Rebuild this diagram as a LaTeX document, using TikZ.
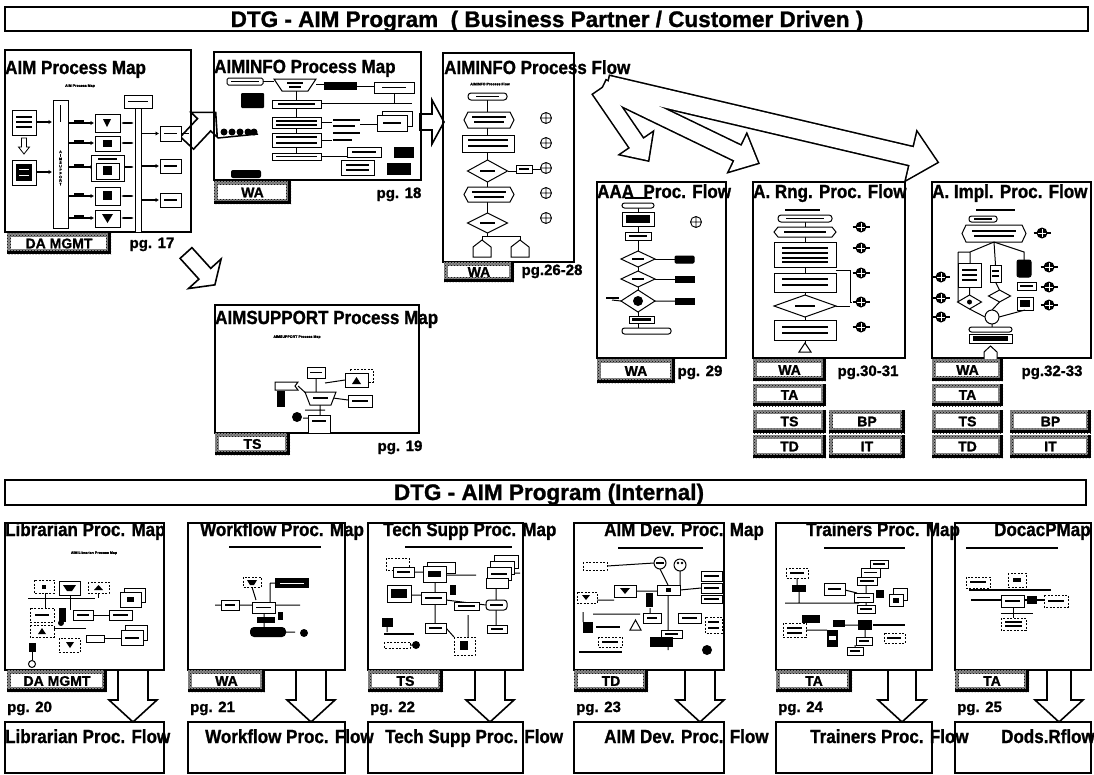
\documentclass[tikz,border=0pt]{standalone}
\usepackage{fontspec}
\setmainfont{Liberation Sans}[BoldFont={Liberation Sans Bold},BoldFeatures={FakeBold=1.2}]
\usetikzlibrary{patterns,arrows.meta,calc}
\newcommand\fsz[1]{\fontsize{#1}{#1}\selectfont\bfseries}
\newcommand\farrow[8]{\begin{scope}[shift={(#1,#2)},rotate=#3]\path[#8] (0,-#5) -- ({#4-#7},-#5) -- ({#4-#7},-#6) -- (#4,0) -- ({#4-#7},#6) -- ({#4-#7},#5) -- (0,#5) -- cycle;\end{scope}}
\newcommand\opl[2]{\draw[line width=0.9pt] (#1,#2) circle (5.5) (#1-5.5,#2)--(#1+5.5,#2) (#1,#2-5.5)--(#1,#2+5.5);}
\newcommand\opd[2]{\fill (#1,#2) circle (5.5); \draw[white,line width=0.8pt] (#1-4,#2)--(#1+4,#2) (#1,#2-4)--(#1,#2+4); \draw[line width=1.2pt] (#1-8.5,#2)--(#1-5,#2) (#1+5,#2)--(#1+8.5,#2);}
\newcommand\hexa[4]{\draw[mb] (#1+4,#2)--(#3-4,#2)--(#3,{(#2+#4)/2})--(#3-4,#4)--(#1+4,#4)--(#1,{(#2+#4)/2})--cycle;}
\newcommand\dia[4]{\draw[mb] (#1-#3,#2)--(#1,#2-#4)--(#1+#3,#2)--(#1,#2+#4)--cycle;}
\newcommand\tl[3]{\draw[line width=1.3pt] (#1,#3)--(#2,#3);}
\begin{document}
\begin{tikzpicture}[x=1pt,y=-1pt,
  pframe/.style={draw,line width=2.2pt,inner sep=0pt},
  mb/.style={draw,line width=1pt,fill=white},
  mdk/.style={draw,line width=1pt,fill=black},
  mdsh/.style={draw,line width=1pt,dash pattern=on 2pt off 1.5pt,fill=white},
  marr/.style={line width=1.4pt,-{Latex[length=3.5pt,width=4.5pt]}},
  mln/.style={line width=1pt},
  tinyt/.style={font=\fsz{3.6},inner sep=0pt},
  ttl/.style={font=\fsz{17},inner sep=0pt,anchor=base west,yscale=1.12},
  pgt/.style={font=\fsz{15},inner sep=0pt,anchor=base},
  pgw/.style={font=\fsz{15},inner sep=0pt,anchor=base west},
  barn/.style={draw,line width=1.6pt,inner sep=0pt},
  btxt/.style={font=\fsz{22.5},inner sep=0pt,anchor=base},
  blk/.style={draw,line width=1.6pt,fill=white},
  lab/.style={inner sep=0pt,font=\fsz{14},path picture={
    \fill[black!45] (path picture bounding box.south west) rectangle (path picture bounding box.north east);
    \fill[pattern=crosshatch dots,pattern color=black] (path picture bounding box.south west) rectangle (path picture bounding box.north east);
    \fill ([xshift=-3.5pt]path picture bounding box.north east) rectangle (path picture bounding box.south east);
    \fill (path picture bounding box.south west) rectangle ([yshift=3.5pt]path picture bounding box.south east);
    \fill[white] ([xshift=3.5pt,yshift=-3.5pt]path picture bounding box.north west) rectangle ([xshift=-5pt,yshift=5pt]path picture bounding box.south east);}}
]
\fill[white] (0,0) rectangle (1094,774);
\useasboundingbox (0,0) rectangle (1094,774);

% ---------- block arrows
\farrow{187}{143}{46.9}{42}{9}{18}{17}{blk}
\farrow{186}{253}{-47.8}{43}{8}{22}{15}{blk}
\farrow{420}{122}{0}{24}{8}{22}{12}{blk}
\farrow{600}{90}{-55.6}{85}{8}{19}{20}{draw,line width=3.2pt}
\farrow{603}{88}{-25.8}{172}{8}{20}{22}{draw,line width=3.2pt}
\farrow{608}{85}{-13.2}{338}{9}{24}{26}{draw,line width=3.2pt}
\farrow{600}{90}{-55.6}{85}{8}{19}{20}{fill=white}
\farrow{603}{88}{-25.8}{172}{8}{20}{22}{fill=white}
\farrow{608}{85}{-13.2}{338}{9}{24}{26}{fill=white}
\foreach \cx/\sw in {133/15,311/15,490/15,700/15,902/14,1059/12}{
  \farrow{\cx}{670}{-90}{52}{\sw}{24}{22}{blk}}

% ---------- title bars
\node[barn,minimum width=1083,minimum height=24] (bar1) at (546.5,19) {};
\node[btxt] (bar1t) at (547,27) {DTG - AIM Program\ \ (\ Business Partner / Customer Driven )};
\node[barn,minimum width=1081,minimum height=25] (bar2) at (545.5,492.5) {};
\node[btxt] (bar2t) at (549,500) {DTG - AIM Program (Internal)};

% ---------- frames row 1
\node[pframe,minimum width=186,minimum height=182] (b1) at (98,141) {};
\node[pframe,minimum width=207,minimum height=128] (b2) at (317.5,116) {};
\node[pframe,minimum width=131,minimum height=209] (b3) at (508.5,157.5) {};
\node[pframe,minimum width=129,minimum height=176] (b4) at (661.5,270) {};
\node[pframe,minimum width=152,minimum height=176] (b5) at (829,270) {};
\node[pframe,minimum width=159,minimum height=176] (b6) at (1011.5,270) {};
\node[pframe,minimum width=204,minimum height=128] (b7) at (317,369) {};
% ---------- frames row 2
\foreach \nm/\cx/\w in {lib/84.5/159,wf/266.5/157,ts/445.5/155,dev/649/150,tr/854/156,dc/1023/136}{
  \node[pframe,minimum width=\w,minimum height=147] (m\nm) at (\cx,596.5) {};
  \node[pframe,minimum width=\w,minimum height=51] (f\nm) at (\cx,747.5) {};}

% ---------- box 1 content
\node[tinyt] (s1) at (80,86) {AIM Process Map};
\draw[mb] (12,110) rectangle (36,135); \tl{16}{32}{117} \tl{16}{32}{122} \tl{16}{32}{127}
\farrow{24}{138}{-90}{16}{2.5}{5.5}{7}{draw,line width=0.8pt,fill=white}
\draw[mb] (12,160) rectangle (36,185); \fill (16,164) rectangle (32,181);
\draw[white,line width=.8pt] (19,169)--(29,169) (19,175)--(29,175);
\draw[marr] (36,122)--(52,122); \draw[marr] (36,172)--(52,172);
\draw[mb] (53,100) rectangle (68,228);
\node[tinyt,align=center] (s1v) at (60.5,168) {A\\I\\M\\S\\U\\P\\P\\O\\R\\T};
\draw[line width=1.3pt] (60.5,105)--(60.5,122);
\foreach \yy in {123,143,167,196,218}{
  \draw[marr] (68,\yy)--(94,\yy); \fill (74,\yy-3) rectangle (84,\yy);
  \draw[line width=1.3pt,{Latex[length=3pt]}-{Latex[length=3pt]}] (121,\yy)--(134,\yy);}
\draw[mb] (95,114) rectangle (120,132); \fill (103,119)--(111,119)--(107,127)--cycle;
\draw[mb] (95,136) rectangle (120,151); \fill (103,140) rectangle (112,147);
\draw[mb] (91,155) rectangle (124,181); \draw[mb] (96,163) rectangle (119,179); \fill (103,166) rectangle (112,175); \tl{98}{117}{159}
\draw[mb] (95,187) rectangle (120,205); \fill (103,191) rectangle (112,200);
\draw[mb] (95,210) rectangle (120,227); \fill (102,214)--(113,214)--(107.5,223)--cycle;
\draw[mb] (135,100) rectangle (141,232);
\draw[mb] (124,95) rectangle (152,108); \tl{128}{148}{101.5}
\foreach \ya/\yb in {126/141,159/173,193/207}{
  \pgfmathsetmacro\ym{(\ya+\yb)/2}
  \draw[mb] (160,\ya) rectangle (181,\yb); \tl{164}{177}{\ym}
  \draw[marr] (141,\ym) -- (159,\ym);}
\draw[mln] (181,133)--(189,133);

% ---------- box 2 content
\draw[mb,rounded corners=1.5] (227,78) rectangle (263,85); \tl{231}{259}{81.5}
\draw[mb] (274,79)--(316,79)--(308,91)--(282,91)--cycle; \tl{287}{303}{83} \tl{289}{301}{87}
\draw[mln] (263,81.5)--(274,81.5) (316,84)--(324,84);
\fill (324,82) rectangle (357,90);
\draw[mln] (357,86)--(374,86);
\draw[mb] (374,82) rectangle (414,93); \tl{382}{406}{87.5}
\fill[rounded corners=1] (241,93) rectangle (264,108);
\draw[mln] (296,91)--(296,153);
\draw[mb] (272,100) rectangle (321,108); \tl{278}{315}{104}
\draw[mln] (321,103)--(412,103) (394,93)--(394,103);
\draw[mb] (272,117) rectangle (321,128); \tl{276}{317}{121} \tl{276}{317}{125}
\draw[mb] (272,133) rectangle (321,147); \tl{276}{317}{137} \tl{276}{317}{143}
\draw[mb] (272,153) rectangle (321,160); \tl{276}{317}{156.5}
\draw[mln] (321,122)--(332,122) (321,140)--(332,140);
\tl{333}{360}{120} \tl{333}{355}{126} \tl{333}{360}{133} \tl{333}{352}{140}
\draw[mln] (360,124)--(377,124);
\draw[mb] (382,111) rectangle (412,126); \draw[mb] (377,115) rectangle (407,131); \tl{383}{401}{123}
\draw[mb] (347,147) rectangle (381,157); \tl{352}{376}{152}
\draw[mb] (341,160) rectangle (374,175); \tl{346}{369}{165} \tl{346}{369}{170}
\fill (394,147) rectangle (414,158); \fill (387,163) rectangle (411,175);
\draw[mln] (321,156)--(347,156);
\foreach \xx in {224,232,240,248,254}{\fill (\xx,132) circle (3.5);}
\draw[line width=1.5pt] (218,138)--(258,134);
\fill[rounded corners=2] (231,170) rectangle (261,178);

% ---------- box 3 content
\node[tinyt] (s3) at (490,84) {AIMINFO Process Flow};
\draw[mln] (487.5,100)--(487.5,213) (487.5,233)--(487.5,236)--(482,236)--(482,240) (487.5,236)--(520,236)--(520,240);
\draw[mb,rounded corners=3] (468,93) rectangle (507,100); \tl{476}{499}{96.5}
\hexa{464}{112}{514}{128} \tl{472}{506}{117} \tl{474}{504}{122}
\draw[mb] (462,135) rectangle (514,152); \tl{468}{508}{140} \tl{468}{508}{146}
\dia{487.5}{171}{20}{11} \tl{480}{495}{171}
\draw[mln] (507.5,171)--(516,171) (532,169)--(540.5,169);
\draw[mb] (516,165) rectangle (532,173); \tl{519}{529}{169}
\hexa{464}{187}{514}{202} \tl{472}{506}{192} \tl{474}{504}{197}
\dia{487.5}{223}{20}{10} \tl{480}{495}{223}
\draw[mb] (473,257)--(473,247)--(482,240)--(491,247)--(491,257)--cycle;
\draw[mb] (511,257)--(511,247)--(520,240)--(529,247)--(529,257)--cycle;
\foreach \yy in {118,143,168,193,218}{\opl{546}{\yy}}

% ---------- AAA content
\tl{625}{652}{198}
\draw[mln] (638,203)--(638,328);
\draw[mb,rounded corners=2.5] (622,203) rectangle (654,208);
\draw[mb] (622,212) rectangle (654,226); \fill (626,215) rectangle (650,223);
\draw[mb] (625,232) rectangle (651,240); \tl{629}{647}{236}
\dia{638}{259}{17}{8} \tl{632}{644}{259}
\draw[mln] (655,259)--(675,259); \draw[mdk,rounded corners=1] (675,256) rectangle (694,263);
\dia{638}{279}{17}{8} \tl{632}{644}{279}
\draw[mln] (655,279)--(675,279); \draw[mdk] (675,276) rectangle (694,282);
\dia{638}{301}{17}{11} \fill (638,301) circle (5);
\draw[mln] (655,301)--(675,301) (612,300)--(621,301); \draw[mdk] (675,298) rectangle (694,304); \tl{606}{619}{298}
\draw[mb] (629,316) rectangle (654,323); \fill (632,318) rectangle (651,321);
\draw[mb,rounded corners=2.5] (622,328) rectangle (671,334);
\opl{696}{222}

% ---------- A. Rng content
\tl{785}{820}{210}
\draw[mln] (805,215)--(805,345);
\draw[mb,rounded corners=3] (778,215) rectangle (832,222); \tl{786}{824}{218.5}
\hexa{774}{227}{836}{237} \tl{784}{826}{232}
\draw[mb] (774,242) rectangle (836,267); \tl{782}{828}{248} \tl{782}{828}{253} \tl{782}{828}{258} \tl{782}{828}{262}
\draw[mb] (774,273) rectangle (836,292); \tl{782}{828}{279} \tl{782}{828}{285}
\dia{805}{306}{31}{11} \tl{795}{815}{306}
\draw[mb] (774,320) rectangle (836,340); \tl{782}{828}{327} \tl{782}{828}{333}
\draw[mb] (799,352)--(805,343)--(811,352)--cycle;
\draw[mln] (836,270)--(850,270)--(850,302)--(852,302) (836,306)--(850,306);
\foreach \yy in {227,248,273,302,327}{\opd{861}{\yy}}

% ---------- A. Impl content
\tl{976}{1015}{210}
\draw[mb,rounded corners=2.5] (969,216) rectangle (997,222); \tl{974}{992}{219}
\hexa{962}{225}{1026}{242} \tl{972}{1016}{231} \tl{974}{1014}{236}
\opd{1042}{233}
\draw[mln] (994,242)--(970,252)--(970,263) (994,242)--(995.5,265) (994,242)--(1024,252)--(1024,260) (958,252)--(970,252) (958,252)--(958,302);
\draw[mb] (958,263) rectangle (981,287); \tl{962}{977}{270} \tl{962}{977}{275} \tl{962}{977}{280}
\draw[mb] (990,265) rectangle (1001,282); \tl{992}{999}{271} \tl{992}{999}{276}
\draw[mdk,rounded corners=2] (1017,260) rectangle (1031,277);
\draw[mb] (1017,282) rectangle (1036,290); \tl{1020}{1033}{286}
\draw[mb] (1017,297) rectangle (1033,310); \fill (1020,300) rectangle (1030,307);
\draw[mln] (969.5,309)--(985,317) (999.5,302)--(992,310) (1025,310)--(999,317) (992,324)--(992,327) (969.5,287)--(969.5,295) (995.5,282)--(999.5,290);
\dia{969.5}{302}{12}{7} \fill (969.5,302) circle (2.5);
\dia{999.5}{296}{11}{6}
\draw[mb] (992,317) circle (7);
\draw[mb,rounded corners=2.5] (969,327) rectangle (1012,332);
\draw[mb] (969,334) rectangle (1012,343); \fill (973,336) rectangle (1008,341);
\draw[mb] (984,360)--(984,352)--(990.5,346)--(997,352)--(997,360);
\opd{941}{277} \opd{941}{298} \opd{941}{317} \opd{1049}{267} \opd{1049}{287} \opd{1049}{305}

% ---------- AIMSUPPORT content
\node[tinyt] (s7) at (297,337) {AIMSUPPORT Process Map};
\draw[mln] (316,378)--(316,392) (320,405)--(320,415) (333,398)--(348,400) (325,383)--(345,380) (298,386)--(308,395) (303,418)--(316,418) (305,410)--(325,410);
\draw[mb] (307,367) rectangle (325,378); \tl{310}{322}{372.5}
\draw[mb] (305,392)--(336,392)--(331,405)--(310,405)--cycle; \tl{313}{328}{398}
\draw[mb] (308,415) rectangle (330,433); \tl{312}{326}{421}
\draw[mdsh] (350,369) rectangle (373,382); \draw[mb] (345,373) rectangle (368,387); \fill (352,384)--(356.5,377)--(361,384)--cycle;
\draw[mb] (348,395) rectangle (372,407); \tl{352}{368}{401}
\draw[mb] (275,382)--(298,382)--(295,386)--(298,390)--(275,390)--cycle;
\fill (277,391) rectangle (285,407);
\fill (297,417) circle (5);

% ---------- Librarian content
\node[tinyt] (slib) at (94,553) {AIM Librarian Process Map};
\draw[mln] (28,598)--(95,598) (45,593)--(45,608) (70,595)--(70,610) (98,593)--(98,598) (93,615)--(109,615) (54,628)--(86,628) (86,638)--(121,638) (32,652)--(32,660);
\draw[mdsh] (34,580) rectangle (54,593); \fill (42,585) rectangle (46,589);
\draw[mb] (59,581) rectangle (80,595); \fill (63,585)--(76,585)--(72,591)--(67,591)--cycle;
\draw[mdsh] (88,582) rectangle (109,593); \fill (94,590)--(98.5,585)--(103,590)--cycle;
\draw[mb] (124,588) rectangle (145,602); \draw[mb] (120,592) rectangle (141,607); \fill (127,597) rectangle (134,602);
\draw[mdsh] (30,608) rectangle (54,622); \tl{35}{49}{615}
\fill (59,608) rectangle (66,622); \fill (61,623) circle (3);
\draw[mb] (73,610) rectangle (93,620); \tl{77}{89}{615}
\draw[mb] (109,610) rectangle (132,620); \tl{113}{128}{615}
\draw[mdsh] (30,625) rectangle (54,637); \fill (42,628)--(46,634)--(38,634)--cycle;
\draw[mb] (86,635) rectangle (104,642);
\draw[mb] (125,625) rectangle (147,640); \draw[mb] (121,630) rectangle (143,645); \tl{125}{139}{638}
\draw[mdsh] (59,638) rectangle (80,652); \fill (66,642)--(74,642)--(70,648)--cycle;
\fill (29,643) rectangle (36,652);
\draw[mb] (32,664) circle (3.5);

% ---------- Workflow content
\tl{229}{321}{547}
\draw[mln] (270,583)--(275,583) (270,583)--(270,602) (252,587)--(256,600) (215,605)--(300,605) (264,613)--(264,627) (286,632)--(295,632);
\draw[mdsh] (243,577) rectangle (261,587); \fill (247,580)--(257,580)--(254,585)--(250,585)--cycle;
\fill (275,578) rectangle (309,588); \draw[white,line width=0.8pt] (280,583)--(304,583);
\draw[mb] (221,600) rectangle (239,610); \tl{225}{235}{605}
\draw[mb] (252,602) rectangle (275,613); \tl{256}{271}{607.5}
\fill (257,617) rectangle (275,623);
\fill[rounded corners=4] (250,627) rectangle (286,637);
\fill (278,612) rectangle (283,620);
\fill (304,633) circle (4);

% ---------- Tech Supp content
\tl{405}{512}{547}
\draw[mln] (414,572)--(423,572) (446,575)--(476,575) (435,582)--(435,592) (411,595)--(421,595) (446,600)--(486,605) (496,588)--(496,600) (435,604)--(435,623) (496,610)--(496,625) (387,627)--(387,632) (410,645)--(412,645) (446,628)--(454,637) (468,615)--(468,637) (511,573)--(520,573);
\draw[mdsh] (386,558) rectangle (409,570); \draw[mb] (393,567) rectangle (414,577); \tl{397}{410}{572}
\draw[mb] (427,562) rectangle (455,573); \draw[mb] (423,566) rectangle (446,582); \fill (428,571) rectangle (441,577);
\draw[mb] (494,555) rectangle (518,568); \draw[mb] (490,561) rectangle (514,574); \draw[mb] (487,567) rectangle (511,580); \tl{491}{507}{574}
\draw[mb] (486,578) rectangle (508,588);
\draw[mb] (387,585) rectangle (411,602); \fill (391,589) rectangle (407,598);
\draw[mb] (421,592) rectangle (446,604); \tl{425}{442}{598}
\fill (450,585) rectangle (456,595);
\draw[mb] (454,602) rectangle (479,610); \tl{458}{475}{606}
\draw[mb,rounded corners=3] (486,600) rectangle (507,610); \tl{490}{503}{605}
\draw[mb] (425,623) rectangle (446,633); \tl{429}{442}{628}
\draw[mb] (487,625) rectangle (507,633); \tl{491}{503}{629}
\fill (382,618) rectangle (393,627);
\tl{384}{414}{634}
\draw[mdsh] (384,642) rectangle (410,648); \fill (416,645) circle (4);
\draw[mdsh] (454,637) rectangle (475,655); \fill (460,641) rectangle (468,650);

% ---------- AIM Dev content
\tl{618}{703}{548}
\draw[mln] (607,566)--(654,563) (680,571)--(680,585) (660,569)--(668,585) (597,600)--(614,600) (636,591)--(657,591) (668,595)--(668,650) (680,590)--(701,588) (650,608)--(650,613) (583,612)--(583,622) (593,614)--(640,614);
\draw[mdsh] (583,562) rectangle (607,570);
\draw[mb] (660,563) circle (6); \tl{656}{664}{563}
\draw[mb] (680,565) circle (6); \fill (678,563) circle (1.3); \fill (682,563) circle (1.3);
\draw[mb] (701,571) rectangle (722,581); \tl{704}{719}{576}
\draw[mb] (701,583) rectangle (722,593); \tl{704}{719}{588}
\draw[mb] (701,595) rectangle (722,603); \tl{704}{719}{599}
\draw[mb] (614,585) rectangle (636,597); \fill (620,588)--(630,588)--(625,594)--cycle;
\draw[mb] (657,585) rectangle (680,595); \fill (666,588) rectangle (671,592);
\fill (646,593) rectangle (653,607);
\draw[mdsh] (577,592) rectangle (597,603); \fill (582,595)--(590,595)--(586,600)--cycle;
\draw[mb] (643,613) rectangle (661,623); \tl{647}{657}{618}
\draw[mb] (678,613) rectangle (701,623); \tl{682}{697}{618}
\draw[mb] (630,630)--(635.5,620)--(641,630)--cycle;
\fill (583,622) rectangle (593,633); \tl{596}{620}{627}
\draw[mdsh] (705,617) rectangle (722,633); \tl{708}{719}{622} \tl{708}{719}{628}
\draw[mb] (661,630) rectangle (682,638); \tl{665}{678}{634}
\fill (650,637) rectangle (673,647);
\draw[mdsh] (598,637) rectangle (622,647); \tl{602}{618}{642}
\tl{579}{622}{652}
\fill (707,650) circle (5);

% ---------- Trainers content
\tl{824}{905}{548}
\draw[mln] (797,578)--(797,585) (799,592)--(799,603) (785,603)--(859,603) (845,590)--(857,593) (866,585)--(866,605) (838,625)--(858,625) (865,630)--(865,637) (855,645)--(855,647) (806,630)--(827,630);
\draw[mb] (870,560) rectangle (888,568); \tl{873}{885}{564}
\draw[mb] (861,568) rectangle (880,577); \tl{864}{877}{572.5}
\draw[mb] (857,577) rectangle (877,585); \tl{860}{874}{581}
\draw[mdsh] (786,568) rectangle (808,578); \tl{790}{804}{573}
\fill (792,585) rectangle (806,592);
\draw[mb] (824,583) rectangle (845,595); \tl{828}{841}{589}
\draw[mb] (854,593) rectangle (873,602); \tl{857}{870}{597.5}
\fill (876,590) rectangle (884,598);
\draw[mb] (893,588) rectangle (907,600); \draw[mb] (889,594) rectangle (903,606); \fill (893,598) rectangle (899,603);
\draw[mb] (857,605) rectangle (875,613); \tl{860}{872}{609}
\fill (802,615) rectangle (820,623);
\draw[mdsh] (783,623) rectangle (806,637); \tl{787}{802}{628} \tl{787}{802}{633}
\fill (833,620) rectangle (845,627); \fill (858,620) rectangle (872,630); \tl{873}{905}{625}
\draw[mdsh] (884,633) rectangle (905,643); \tl{887}{901}{638}
\fill (827,630) rectangle (838,647); \fill[white] (829,636) rectangle (836,640);
\draw[mb] (856,637) rectangle (872,645); \tl{859}{869}{641}
\draw[mb] (847,647) rectangle (863,655); \tl{850}{860}{651}

% ---------- Docs content
\tl{966}{1058}{548}
\draw[mln] (1013,607)--(1013,618);
\draw[line width=1.2pt] (969,590)--(1051,590);
\draw[line width=1.4pt] (971,600)--(1068,600);
\draw[mdsh] (966,577) rectangle (990,588); \tl{970}{986}{582}
\draw[mdsh] (1008,573) rectangle (1026,587); \fill (1013,578) rectangle (1021,582);
\draw[mb] (1001,595) rectangle (1024,607); \tl{1005}{1020}{601}
\fill (1027,596) rectangle (1037,604);
\draw[mdsh] (1044,595) rectangle (1068,607); \tl{1048}{1064}{601}
\draw[line width=1pt] (1001,613)--(1033,613);
\draw[mdsh] (1001,618) rectangle (1026,630); \tl{1005}{1022}{622} \tl{1005}{1022}{626}

% ---------- titles
\node[ttl] (t1) at (5,74) {AIM Process Map};
\node[ttl] (t2) at (214,73) {AIMINFO Process Map};
\node[ttl] (t3) at (444,74) {AIMINFO Process Flow};
\node[ttl] (t4) at (597,198) {AAA\ \ Proc. Flow};
\node[ttl] (t5) at (753,198) {A. Rng. Proc. Flow};
\node[ttl] (t6) at (932,198) {A. Impl. Proc. Flow};
\node[ttl] (t7) at (215,324) {AIMSUPPORT Process Map};
\node[ttl] (tm1) at (5,536) {Librarian Proc. Map};
\node[ttl] (tm2) at (200,536) {Workflow Proc. Map};
\node[ttl] (tm3) at (383,536) {Tech Supp Proc. Map};
\node[ttl] (tm4) at (604,536) {AIM Dev. Proc. Map};
\node[ttl] (tm5) at (806,536) {Trainers Proc. Map};
\node[ttl] (tm6) at (994,536) {DocacPMap};
\node[ttl] (tf1) at (5,743) {Librarian Proc. Flow};
\node[ttl] (tf2) at (205,743) {Workflow Proc. Flow};
\node[ttl] (tf3) at (385,743) {Tech Supp Proc. Flow};
\node[ttl] (tf4) at (604,743) {AIM Dev. Proc. Flow};
\node[ttl] (tf5) at (810,743) {Trainers Proc. Flow};
\node[ttl] (tf6) at (1001,743) {Dods.Rflow};

% ---------- labels
\node[lab,minimum width=104,minimum height=21] (l1) at (59,243.5) {DA MGMT};
\node[lab,minimum width=77,minimum height=23] (l2) at (252.5,192.5) {WA};
\node[lab,minimum width=70,minimum height=20] (l3) at (479,272) {WA};
\node[lab,minimum width=78,minimum height=24] (l4) at (636,371) {WA};
\node[lab,minimum width=73,minimum height=22] (l5) at (789.5,370) {WA};
\node[lab,minimum width=73,minimum height=22] (l6) at (789.5,395) {TA};
\node[lab,minimum width=73,minimum height=23] (l7) at (789.5,421.5) {TS};
\node[lab,minimum width=73,minimum height=23] (l8) at (789.5,446.5) {TD};
\node[lab,minimum width=76,minimum height=23] (l9) at (867,421.5) {BP};
\node[lab,minimum width=76,minimum height=23] (l10) at (867,446.5) {IT};
\node[lab,minimum width=71,minimum height=22] (l11) at (967.5,370) {WA};
\node[lab,minimum width=71,minimum height=22] (l12) at (967.5,395) {TA};
\node[lab,minimum width=71,minimum height=23] (l13) at (967.5,421.5) {TS};
\node[lab,minimum width=71,minimum height=23] (l14) at (967.5,446.5) {TD};
\node[lab,minimum width=81,minimum height=23] (l15) at (1050.5,421.5) {BP};
\node[lab,minimum width=81,minimum height=23] (l16) at (1050.5,446.5) {IT};
\node[lab,minimum width=75,minimum height=22] (l17) at (252.5,444) {TS};
\node[lab,minimum width=100,minimum height=22] (r1) at (57,681) {DA MGMT};
\node[lab,minimum width=77,minimum height=22] (r2) at (226.5,681) {WA};
\node[lab,minimum width=75,minimum height=22] (r3) at (405.5,681) {TS};
\node[lab,minimum width=74,minimum height=22] (r4) at (611,681) {TD};
\node[lab,minimum width=76,minimum height=22] (r5) at (814,681) {TA};
\node[lab,minimum width=74,minimum height=22] (r6) at (992,681) {TA};

% ---------- page numbers
\node[pgt] (p17) at (152,248) {pg. 17};
\node[pgt] (p18) at (399,198) {pg. 18};
\node[pgt] (p26) at (552,275) {pg.26-28};
\node[pgt] (p29) at (700,376) {pg. 29};
\node[pgt] (p30) at (868,376) {pg.30-31};
\node[pgt] (p32) at (1052,376) {pg.32-33};
\node[pgt] (p19) at (400,451) {pg. 19};
\node[pgw] (p20) at (7,712) {pg. 20};
\node[pgw] (p21) at (190,712) {pg. 21};
\node[pgw] (p22) at (370,712) {pg. 22};
\node[pgw] (p23) at (576,712) {pg. 23};
\node[pgw] (p24) at (778,712) {pg. 24};
\node[pgw] (p25) at (957,712) {pg. 25};
\end{tikzpicture}
\end{document}
